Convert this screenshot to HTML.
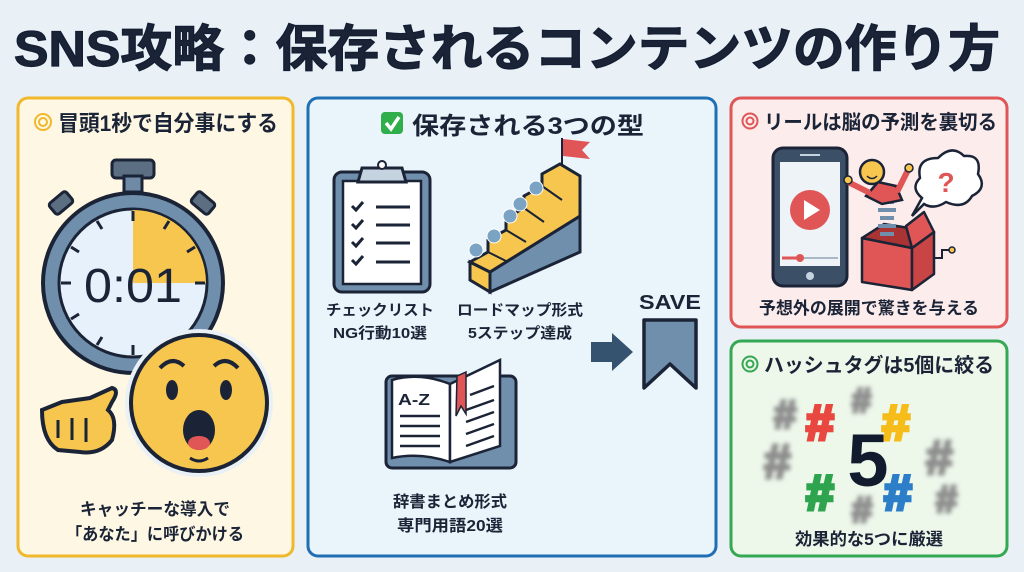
<!DOCTYPE html>
<html><head><meta charset="utf-8">
<style>
html,body{margin:0;padding:0;background:#e9f1f7;}
svg{display:block;}
text{font-family:"Liberation Sans","Noto Sans CJK JP",sans-serif;font-weight:bold;fill:#1b2436;}
</style></head>
<body>
<svg width="1024" height="572" viewBox="0 0 1024 572" xmlns="http://www.w3.org/2000/svg">
<defs>
<filter id="bl" x="-50%" y="-50%" width="200%" height="200%"><feGaussianBlur stdDeviation="2.2"/></filter>
</defs>
<rect width="1024" height="572" fill="#e9f1f7"/>
<text x="14" y="66" font-size="50" textLength="986" lengthAdjust="spacingAndGlyphs" fill="#131d33" stroke="#131d33" stroke-width="1.2">SNS攻略：保存されるコンテンツの作り方</text>

<!-- panels -->
<rect x="18" y="98" width="275" height="458" rx="10" fill="#fdf7e3" stroke="#f0b82a" stroke-width="3"/>
<rect x="308" y="98" width="408" height="458" rx="10" fill="#eaf4fb" stroke="#1f6fb4" stroke-width="3"/>
<rect x="731" y="98" width="276" height="229" rx="10" fill="#fcecec" stroke="#e05555" stroke-width="3"/>
<rect x="731" y="341" width="276" height="215" rx="10" fill="#edf7ea" stroke="#34a853" stroke-width="3"/>

<!-- left panel -->
<circle cx="43" cy="122" r="8" fill="none" stroke="#f0b82a" stroke-width="2"/><circle cx="43" cy="122" r="4" fill="none" stroke="#f0b82a" stroke-width="2"/>
<text x="58" y="131" font-size="22" textLength="220" lengthAdjust="spacingAndGlyphs">冒頭1秒で自分事にする</text>
<!-- stopwatch -->
<rect x="112" y="160" width="42" height="18" rx="4" fill="#5b6e82" stroke="#1b2436" stroke-width="3"/>
<rect x="124" y="176" width="18" height="16" fill="#6f8aa5" stroke="#1b2436" stroke-width="3"/>
<rect x="50" y="196" width="22" height="14" rx="3" fill="#5b6e82" stroke="#1b2436" stroke-width="3" transform="rotate(-40 61 203)"/>
<rect x="192" y="196" width="22" height="14" rx="3" fill="#5b6e82" stroke="#1b2436" stroke-width="3" transform="rotate(40 203 203)"/>
<circle cx="133" cy="283" r="90" fill="#6f8fad" stroke="#1b2436" stroke-width="4"/>
<circle cx="133" cy="283" r="74" fill="#e6f1fb" stroke="#1b2436" stroke-width="3"/>
<path d="M133 283 L133 210 A73 73 0 0 1 206 283 Z" fill="#f6c64e"/>
<g stroke="#1b2436" stroke-width="3">
<line x1="133" y1="211" x2="133" y2="221"/><line x1="133" y1="345" x2="133" y2="355"/>
<line x1="61" y1="283" x2="71" y2="283"/><line x1="195" y1="283" x2="205" y2="283"/>
<line x1="97" y1="221" x2="102" y2="229"/><line x1="169" y1="221" x2="164" y2="229"/>
<line x1="71" y1="247" x2="79" y2="252"/><line x1="195" y1="247" x2="187" y2="252"/>
<line x1="71" y1="319" x2="79" y2="314"/><line x1="97" y1="345" x2="102" y2="337"/>
</g>
<text x="84" y="302" font-size="48" textLength="98" lengthAdjust="spacingAndGlyphs" style="font-weight:normal">0:01</text>
<!-- face -->
<circle cx="199" cy="403" r="74" fill="#e9f1f7"/>
<circle cx="199" cy="403" r="68" fill="#f6c64e" stroke="#1b2436" stroke-width="4"/>
<path d="M160 368 Q172 355 184 366" fill="none" stroke="#1b2436" stroke-width="4"/>
<path d="M214 366 Q226 355 238 368" fill="none" stroke="#1b2436" stroke-width="4"/>
<ellipse cx="172" cy="390" rx="6" ry="10" fill="#1b2436"/><ellipse cx="226" cy="390" rx="6" ry="10" fill="#1b2436"/>
<ellipse cx="199" cy="430" rx="16" ry="20" fill="#1b2436"/><ellipse cx="199" cy="443" rx="11" ry="7" fill="#e05555"/>
<path d="M190 458 Q199 464 208 458" fill="none" stroke="#1b2436" stroke-width="3"/>
<!-- hand -->
<path d="M42 410 L62 402 L90 398 L112 388 Q120 390 112 402 L108 410 Q118 418 112 440 Q100 455 80 452 L58 450 Q42 440 42 410 Z" fill="#f6c64e" stroke="#1b2436" stroke-width="4"/>
<path d="M58 420 L58 438 M72 418 L72 440 M86 418 L86 442" stroke="#1b2436" stroke-width="3"/>
<text x="155" y="515" font-size="17" text-anchor="middle" textLength="150" lengthAdjust="spacingAndGlyphs">キャッチーな導入で</text>
<text x="155" y="540" font-size="17" text-anchor="middle" textLength="178" lengthAdjust="spacingAndGlyphs">「あなた」に呼びかける</text>

<!-- middle -->
<rect x="381" y="112" width="22" height="22" rx="4" fill="#2fae4b"/>
<path d="M386 123 L391 129 L399 117" fill="none" stroke="#fff" stroke-width="3.5"/>
<text x="412" y="134" font-size="24" textLength="232" lengthAdjust="spacingAndGlyphs">保存される3つの型</text>
<!-- clipboard -->
<rect x="334" y="172" width="96" height="120" rx="8" fill="#6f8fad" stroke="#1b2436" stroke-width="3"/>
<rect x="343" y="181" width="78" height="103" fill="#fff" stroke="#1b2436" stroke-width="2.5"/>
<path d="M362 168 L402 168 L406 182 L358 182 Z" fill="#c5d3e0" stroke="#1b2436" stroke-width="3"/>
<circle cx="382" cy="165" r="4" fill="#fff" stroke="#1b2436" stroke-width="2"/>
<g stroke="#1b2436" stroke-width="3" fill="none">
<path d="M352 206 L356 210 L363 202"/><line x1="376" y1="207" x2="410" y2="207"/>
<path d="M352 224 L356 228 L363 220"/><line x1="376" y1="225" x2="410" y2="225"/>
<path d="M352 242 L356 246 L363 238"/><line x1="376" y1="243" x2="410" y2="243"/>
<path d="M352 260 L356 264 L363 256"/><line x1="376" y1="262" x2="410" y2="262"/>
</g>
<!-- stairs -->
<path d="M490 272 L580 216 L580 252 L490 292 Z" fill="#6f8fad" stroke="#1b2436" stroke-width="3"/>
<path d="M470 262 L490 272 L490 292 L470 280 Z" fill="#f6c64e" stroke="#1b2436" stroke-width="3"/>
<path d="M470 262 L488 252 L488 240 L506 230 L506 218 L524 208 L524 196 L542 186 L542 174 L560 164 L580 176 L580 216 L490 272 Z" fill="#f6c64e" stroke="#1b2436" stroke-width="3"/>
<g stroke="#1b2436" stroke-width="2" fill="none"><path d="M488 252 L508 262 M506 230 L526 242 M524 208 L544 222 M542 186 L562 200"/></g>
<g fill="#7ba3c4" stroke="#fff" stroke-width="1"><circle cx="476" cy="250" r="7"/><circle cx="494" cy="236" r="7"/><circle cx="510" cy="216" r="7"/><circle cx="520" cy="204" r="7"/><circle cx="536" cy="188" r="7"/></g>
<line x1="562" y1="166" x2="562" y2="138" stroke="#1b2436" stroke-width="2"/>
<path d="M563 139 L590 142 L582 150 L590 159 L563 156 Z" fill="#e05555"/>
<text x="380" y="315" font-size="15" text-anchor="middle" textLength="108" lengthAdjust="spacingAndGlyphs">チェックリスト</text>
<text x="380" y="338" font-size="15" text-anchor="middle" textLength="94" lengthAdjust="spacingAndGlyphs">NG行動10選</text>
<text x="520" y="315" font-size="15" text-anchor="middle" textLength="126" lengthAdjust="spacingAndGlyphs">ロードマップ形式</text>
<text x="520" y="338" font-size="15" text-anchor="middle" textLength="104" lengthAdjust="spacingAndGlyphs">5ステップ達成</text>
<!-- arrow & save -->
<path d="M591 342 L612 342 L612 333 L633 352 L612 371 L612 362 L591 362 Z" fill="#35536f"/>
<text x="670" y="309" font-size="20" text-anchor="middle" textLength="62" lengthAdjust="spacingAndGlyphs">SAVE</text>
<path d="M644 320 L696 320 L696 388 L670 364 L644 388 Z" fill="#6f8fad" stroke="#1b2436" stroke-width="3.5" stroke-linejoin="round"/>
<!-- book -->
<rect x="386" y="376" width="130" height="92" rx="6" fill="#6f8fad" stroke="#1b2436" stroke-width="3"/>
<path d="M392 380 Q420 372 450 384 L450 462 Q420 452 392 458 Z" fill="#fff" stroke="#1b2436" stroke-width="2.5"/>
<path d="M450 384 L500 360 L500 446 L450 462 Z" fill="#fff" stroke="#1b2436" stroke-width="2.5"/>
<path d="M457 376 L466 372 L466 414 L461 406 L456 416 Z" fill="#e05555" stroke="#1b2436" stroke-width="1.5"/>
<text x="398" y="405" font-size="16" textLength="32" lengthAdjust="spacingAndGlyphs">A-Z</text>
<g stroke="#1b2436" stroke-width="2.5"><line x1="400" y1="416" x2="440" y2="416"/><line x1="400" y1="426" x2="440" y2="426"/><line x1="400" y1="436" x2="440" y2="436"/><line x1="400" y1="446" x2="440" y2="446"/>
<line x1="470" y1="395" x2="494" y2="386"/><line x1="466" y1="410" x2="494" y2="400"/><line x1="466" y1="422" x2="494" y2="412"/><line x1="466" y1="434" x2="494" y2="424"/><line x1="466" y1="446" x2="494" y2="436"/></g>
<text x="450" y="507" font-size="16" text-anchor="middle" textLength="114" lengthAdjust="spacingAndGlyphs">辞書まとめ形式</text>
<text x="450" y="531" font-size="16" text-anchor="middle" textLength="106" lengthAdjust="spacingAndGlyphs">専門用語20選</text>

<!-- right top -->
<circle cx="750" cy="121" r="7.5" fill="none" stroke="#e05555" stroke-width="2"/><circle cx="750" cy="121" r="3.5" fill="none" stroke="#e05555" stroke-width="2"/>
<text x="764" y="129" font-size="20" textLength="233" lengthAdjust="spacingAndGlyphs">リールは脳の予測を裏切る</text>
<rect x="773" y="148" width="74" height="138" rx="10" fill="#3b4f66" stroke="#1b2436" stroke-width="3"/>
<rect x="780" y="162" width="60" height="104" fill="#eef3f8"/>
<line x1="800" y1="155" x2="820" y2="155" stroke="#c5d3e0" stroke-width="2"/>
<circle cx="810" cy="276" r="4" fill="#c5d3e0"/>
<circle cx="810" cy="210" r="20" fill="#e05555"/><path d="M804 200 L820 210 L804 220 Z" fill="#fff"/>
<line x1="782" y1="258" x2="838" y2="258" stroke="#aab8c6" stroke-width="2"/><line x1="782" y1="258" x2="800" y2="258" stroke="#e05555" stroke-width="3"/><circle cx="800" cy="258" r="4" fill="#e05555"/>
<!-- jack in box -->
<g stroke="#1b2436" stroke-width="2.5" stroke-linejoin="round">
<path d="M862 238 L912 248 L912 290 L862 282 Z" fill="#e05555"/>
<path d="M912 248 L934 232 L934 274 L912 290 Z" fill="#c94444"/>
<path d="M862 238 L884 224 L934 232 L912 248 Z" fill="#a33"/>
<path d="M912 248 L934 232 L924 212 L906 226 Z" fill="#e05555"/>
</g>
<path d="M894 234 h-14 M896 226 h-18 M894 218 h-14 M896 210 h-18 M894 202 h-14" stroke="#6f8fad" stroke-width="4" fill="none"/>
<path d="M934 258 L942 258 L942 250 L950 250" fill="none" stroke="#1b2436" stroke-width="2"/><circle cx="952" cy="250" r="3" fill="#f6c64e" stroke="#1b2436" stroke-width="1.5"/>
<path d="M866 196 L878 182 L896 186 L902 200 L882 204 Z" fill="#e05555" stroke="#1b2436" stroke-width="2.5"/>
<path d="M868 192 L848 182 M898 190 L908 170" stroke="#e05555" stroke-width="6" stroke-linecap="round"/>
<circle cx="848" cy="180" r="4" fill="#f6c64e" stroke="#1b2436" stroke-width="1.5"/><circle cx="909" cy="168" r="4" fill="#f6c64e" stroke="#1b2436" stroke-width="1.5"/>
<circle cx="872" cy="172" r="12" fill="#f6c64e" stroke="#1b2436" stroke-width="2.5"/>
<path d="M867 176 Q872 181 877 176" fill="none" stroke="#1b2436" stroke-width="1.5"/>
<path d="M922 198 Q910 188 920 178 Q916 158 938 158 Q952 144 964 156 Q982 154 978 174 Q988 188 972 196 Q964 210 946 202 Q934 210 924 204 L912 216 Z" fill="#fff" stroke="#1b2436" stroke-width="2.5"/>
<text x="946" y="192" font-size="28" text-anchor="middle" style="fill:#e05555">?</text>
<text x="869" y="314" font-size="17" text-anchor="middle" textLength="220" lengthAdjust="spacingAndGlyphs">予想外の展開で驚きを与える</text>

<!-- right bottom -->
<circle cx="750" cy="364" r="7.5" fill="none" stroke="#34a853" stroke-width="2"/><circle cx="750" cy="364" r="3.5" fill="none" stroke="#34a853" stroke-width="2"/>
<text x="764" y="372" font-size="20" textLength="230" lengthAdjust="spacingAndGlyphs">ハッシュタグは5個に絞る</text>
<g filter="url(#bl)" style="fill:#8e8e8e" stroke="#8e8e8e" stroke-width="3">
<text x="774" y="428" font-size="40" style="fill:#8e8e8e">#</text>
<text x="852" y="412" font-size="34" style="fill:#8e8e8e">#</text>
<text x="764" y="478" font-size="48" style="fill:#8e8e8e">#</text>
<text x="926" y="474" font-size="48" style="fill:#8e8e8e">#</text>
<text x="936" y="512" font-size="38" style="fill:#8e8e8e">#</text>
<text x="852" y="522" font-size="36" style="fill:#8e8e8e">#</text>
</g>
<text x="806" y="440" font-size="50" style="fill:#e8483f" stroke="#e8483f" stroke-width="3.5">#</text>
<text x="882" y="440" font-size="50" style="fill:#f6bd1a" stroke="#f6bd1a" stroke-width="3.5">#</text>
<text x="806" y="510" font-size="50" style="fill:#2fa44f" stroke="#2fa44f" stroke-width="3.5">#</text>
<text x="884" y="510" font-size="50" style="fill:#2c7ec9" stroke="#2c7ec9" stroke-width="3.5">#</text>
<text x="868" y="486" font-size="74" text-anchor="middle" style="fill:#121a2e">5</text>
<text x="869" y="545" font-size="17" text-anchor="middle" textLength="148" lengthAdjust="spacingAndGlyphs">効果的な5つに厳選</text>
</svg>
</body></html>
